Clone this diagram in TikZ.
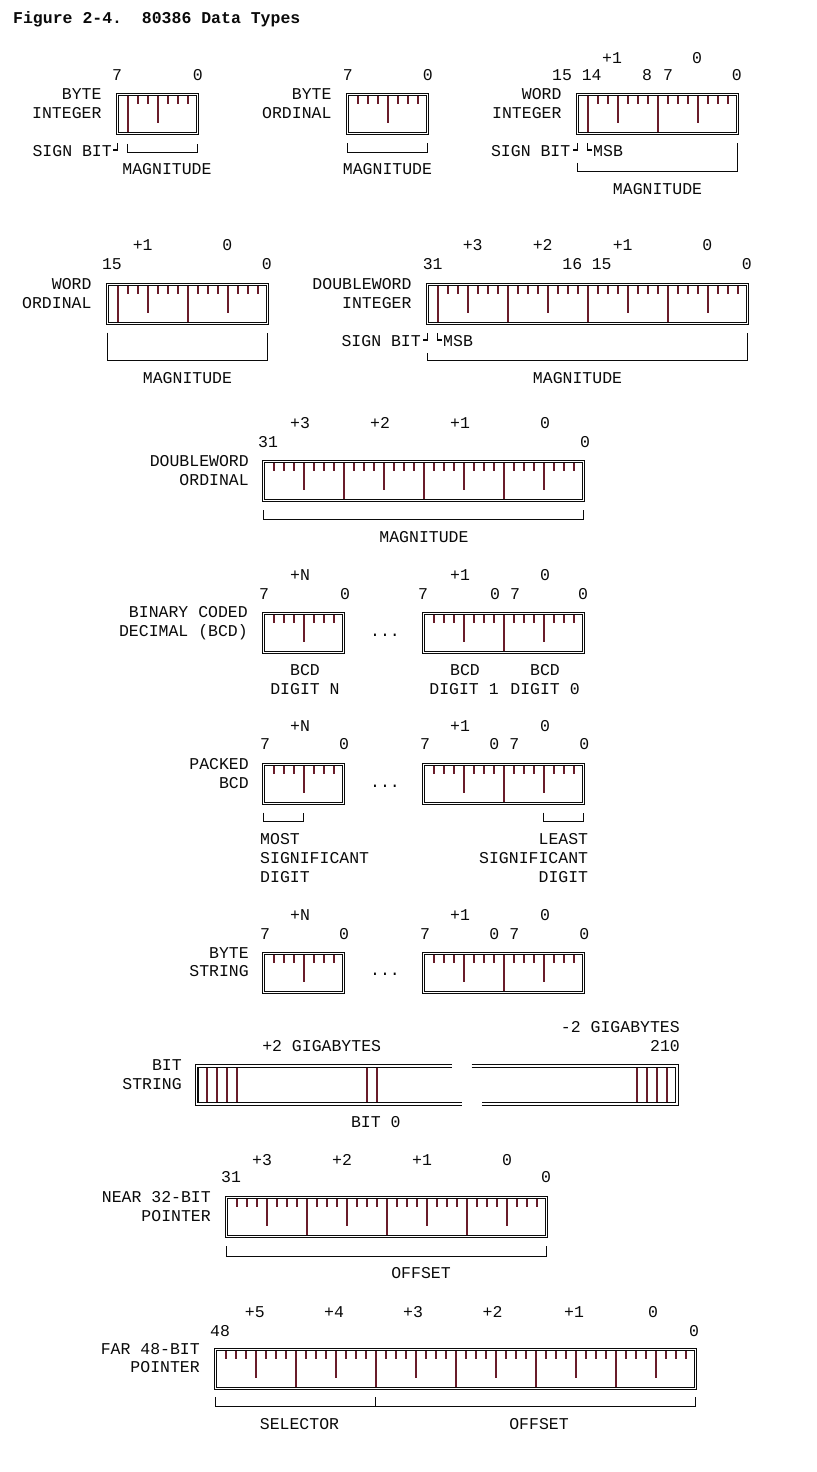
\documentclass[tikz,border=0pt]{standalone}
\usepackage{fontspec}
\setmonofont{Liberation Mono}
\usepackage{tikz}
\usetikzlibrary{calc}
\definecolor{tickred}{RGB}{105,28,42}
\definecolor{ink}{RGB}{10,10,10}
\tikzset{
  lbl/.style={font=\ttfamily\fontsize{16.5bp}{18.8bp}\selectfont, inner sep=0pt, text height=9.5bp, text depth=0pt, text=ink},
  boxline/.style={draw=ink, line width=1.3bp},
  regbox/.style={minimum width=#1, minimum height=39bp, inner sep=0pt, outer sep=0pt, anchor=north west},
  bittick/.style={draw=tickred, line width=2bp},
  brk/.style={draw=ink, line width=1.7bp},
}
% bit field: name, x of bit boundary 0, top, number of bits
\newcommand{\bitfield}[4]{%
  \pgfmathtruncatemacro{\lastk}{#4-1}
  \foreach \k in {1,...,\lastk} {
    \pgfmathtruncatemacro{\jb}{mod(#4-\k,8)}
    \pgfmathtruncatemacro{\jn}{mod(#4-\k,4)}
    \ifnum\jb=0 \def\tlen{38}\else\ifnum\jn=0 \def\tlen{28.5}\else\def\tlen{9.5}\fi\fi
    \draw[bittick] (#2+10*\k,#3+1) -- (#2+10*\k,#3+\tlen);
  }
  \node[regbox=#4*10bp] (#1) at (#2,#3) {};
  \draw[boxline] ($(#1.north west)+(-1.3,-1.3)$) rectangle ($(#1.south east)+(1.3,1.3)$);
  \draw[boxline] ($(#1.north west)+(1.3,1.3)$) rectangle ($(#1.south east)+(-1.3,-1.3)$);
}

\begin{document}
\begin{tikzpicture}[x=1bp,y=-1bp]
\useasboundingbox (0,0) rectangle (816,1472);
\node[lbl, font=\ttfamily\bfseries\fontsize{16.5bp}{18.8bp}\selectfont, anchor=west] (title) at (13,19) {Figure 2-4.\ \ 80386 Data Types};

% byte integer
\draw[bittick] (127.5,95.5) -- ++(0,37);
\bitfield{bint}{117.5}{94.5}{8}
\node[lbl] (bint-hi) at (117,76) {7};
\node[lbl] (bint-lo) at (197.7,76) {0};
\node[lbl, anchor=east] (bint-n1) at (101.7,95) {BYTE};
\node[lbl, anchor=east] (bint-n2) at (101.7,113.5) {INTEGER};
\node[lbl, anchor=east] (bint-sb) at (112,151.5) {SIGN BIT};
\draw[brk] (113,150) -- (117.5,150) -- (117.5,143.5);
\draw[brk] (127.5,144) -- (127.5,152.5) -- (197.5,152.5) -- (197.5,144);
\node[lbl] (bint-mag) at (167,170) {MAGNITUDE};

% byte ordinal
\bitfield{bord}{347.5}{94.5}{8}
\node[lbl] (bord-hi) at (347.7,76) {7};
\node[lbl] (bord-lo) at (427.7,76) {0};
\node[lbl, anchor=east] (bord-n1) at (331.7,95) {BYTE};
\node[lbl, anchor=east] (bord-n2) at (331.7,113.5) {ORDINAL};
\draw[brk] (347.5,143.5) -- (347.5,152.5) -- (427.5,152.5) -- (427.5,143.5);
\node[lbl] (bord-mag) at (387.5,170) {MAGNITUDE};

% word integer
\draw[bittick] (587.5,95.5) -- ++(0,37);
\bitfield{wint}{577.5}{94.5}{16}
\node[lbl] (wint-b1) at (612,59) {+1};
\node[lbl] (wint-b0) at (697,59) {0};
\node[lbl] (wint-15) at (562,76) {15};
\node[lbl] (wint-14) at (591.7,76) {14};
\node[lbl] (wint-8) at (647,76) {8};
\node[lbl] (wint-7) at (668,76) {7};
\node[lbl] (wint-0) at (736.7,76) {0};
\node[lbl, anchor=east] (wint-n1) at (561.7,95) {WORD};
\node[lbl, anchor=east] (wint-n2) at (561.7,113.5) {INTEGER};
\node[lbl, anchor=east] (wint-sb) at (570.5,151.5) {SIGN BIT};
\draw[brk] (573,150) -- (577.5,150) -- (577.5,143.5);
\draw[brk] (587.5,143.5) -- (587.5,150) -- (592,150);
\node[lbl, anchor=west] (wint-msb) at (593,151.5) {MSB};
\draw[brk] (577.5,163) -- (577.5,171.5) -- (737.5,171.5) -- (737.5,143.5);
\node[lbl] (wint-mag) at (657.5,190) {MAGNITUDE};

% word ordinal
\draw[bittick] (117.5,285.5) -- ++(0,37);
\bitfield{word}{107.5}{284.5}{16}
\node[lbl] (word-b1) at (142.7,246) {+1};
\node[lbl] (word-b0) at (227.3,246) {0};
\node[lbl] (word-hi) at (112,265) {15};
\node[lbl] (word-lo) at (266.7,265) {0};
\node[lbl, anchor=east] (word-n1) at (91.7,285) {WORD};
\node[lbl, anchor=east] (word-n2) at (91.7,303.5) {ORDINAL};
\draw[brk] (107.5,332.7) -- (107.5,360.5) -- (267.5,360.5) -- (267.5,332.7);
\node[lbl] (word-mag) at (187.5,379) {MAGNITUDE};

% doubleword integer
\draw[bittick] (437.5,285.5) -- ++(0,37);
\bitfield{dint}{427.5}{284.5}{32}
\node[lbl] (dint-b3) at (472.7,246) {+3};
\node[lbl] (dint-b2) at (542.7,246) {+2};
\node[lbl] (dint-b1) at (622.7,246) {+1};
\node[lbl] (dint-b0) at (707.3,246) {0};
\node[lbl] (dint-31) at (432.7,265) {31};
\node[lbl] (dint-16) at (572.3,265) {16};
\node[lbl] (dint-15) at (601.7,265) {15};
\node[lbl] (dint-0) at (746.7,265) {0};
\node[lbl, anchor=east] (dint-n1) at (411.7,285) {DOUBLEWORD};
\node[lbl, anchor=east] (dint-n2) at (411.7,303.5) {INTEGER};
\node[lbl, anchor=east] (dint-sb) at (421,341.5) {SIGN BIT};
\draw[brk] (423,340) -- (427.5,340) -- (427.5,333);
\draw[brk] (437.5,333) -- (437.5,340) -- (442,340);
\node[lbl, anchor=west] (dint-msb) at (443,341.5) {MSB};
\draw[brk] (427.5,353.3) -- (427.5,360.5) -- (747.5,360.5) -- (747.5,332.7);
\node[lbl] (dint-mag) at (577.5,379) {MAGNITUDE};

% doubleword ordinal
\bitfield{dord}{263.5}{461.5}{32}
\node[lbl] (dord-b3) at (300,424) {+3};
\node[lbl] (dord-b2) at (380,424) {+2};
\node[lbl] (dord-b1) at (460,424) {+1};
\node[lbl] (dord-b0) at (545,424) {0};
\node[lbl] (dord-hi) at (268,443) {31};
\node[lbl] (dord-lo) at (585,443) {0};
\node[lbl, anchor=east] (dord-n1) at (249,462) {DOUBLEWORD};
\node[lbl, anchor=east] (dord-n2) at (249,481) {ORDINAL};
\draw[brk] (263.5,510) -- (263.5,519.5) -- (583.5,519.5) -- (583.5,510);
\node[lbl] (dord-mag) at (424,538) {MAGNITUDE};

% binary coded decimal
\bitfield{bcdn}{263.5}{613.5}{8}
\bitfield{bcd0}{423.5}{613.5}{16}
\node[lbl] (bcd-dots) at (385,632) {...};
\node[lbl] (bcd-bn) at (300,576) {+N};
\node[lbl] (bcd-b1) at (460,576) {+1};
\node[lbl] (bcd-b0) at (545,576) {0};
\node[lbl] (bcd-7a) at (264,595) {7};
\node[lbl] (bcd-0a) at (345,595) {0};
\node[lbl] (bcd-7b) at (423,595) {7};
\node[lbl] (bcd-0b) at (495,595) {0};
\node[lbl] (bcd-7c) at (515,595) {7};
\node[lbl] (bcd-0c) at (583,595) {0};
\node[lbl, anchor=east] (bcd-n1) at (248,613) {BINARY CODED};
\node[lbl, anchor=east] (bcd-n2) at (248,632) {DECIMAL (BCD)};
\node[lbl] (bcd-dn1) at (305,671) {BCD};
\node[lbl] (bcd-dn2) at (305,690) {DIGIT N};
\node[lbl] (bcd-d11) at (465,671) {BCD};
\node[lbl] (bcd-d12) at (464,690) {DIGIT 1};
\node[lbl] (bcd-d01) at (545,671) {BCD};
\node[lbl] (bcd-d02) at (545,690) {DIGIT 0};

% packed bcd
\bitfield{pbcn}{263.5}{764.5}{8}
\bitfield{pbc0}{423.5}{764.5}{16}
\node[lbl] (pbc-dots) at (385,783) {...};
\node[lbl] (pbc-bn) at (300,727) {+N};
\node[lbl] (pbc-b1) at (460,727) {+1};
\node[lbl] (pbc-b0) at (545,727) {0};
\node[lbl] (pbc-7a) at (265,745) {7};
\node[lbl] (pbc-0a) at (344,745) {0};
\node[lbl] (pbc-7b) at (425,745) {7};
\node[lbl] (pbc-0b) at (494.3,745) {0};
\node[lbl] (pbc-7c) at (514.3,745) {7};
\node[lbl] (pbc-0c) at (584.3,745) {0};
\node[lbl, anchor=east] (pbc-n1) at (249,764.3) {PACKED};
\node[lbl, anchor=east] (pbc-n2) at (249,783.3) {BCD};
\draw[brk] (263.5,812.7) -- (263.5,821.5) -- (303.5,821.5) -- (303.5,812.7);
\draw[brk] (543.5,812.7) -- (543.5,821.5) -- (583.5,821.5) -- (583.5,812.7);
\node[lbl, anchor=west] (pbc-m1) at (260,840) {MOST};
\node[lbl, anchor=west] (pbc-m2) at (260,859) {SIGNIFICANT};
\node[lbl, anchor=west] (pbc-m3) at (260,877.7) {DIGIT};
\node[lbl, anchor=east] (pbc-l1) at (588.3,840) {LEAST};
\node[lbl, anchor=east] (pbc-l2) at (588.3,859) {SIGNIFICANT};
\node[lbl, anchor=east] (pbc-l3) at (588.3,877.7) {DIGIT};

% byte string
\bitfield{bstn}{263.5}{953.5}{8}
\bitfield{bst0}{423.5}{953.5}{16}
\node[lbl] (bst-dots) at (385,971) {...};
\node[lbl] (bst-bn) at (300,916) {+N};
\node[lbl] (bst-b1) at (460,916) {+1};
\node[lbl] (bst-b0) at (545,916) {0};
\node[lbl] (bst-7a) at (265,934.5) {7};
\node[lbl] (bst-0a) at (344,934.5) {0};
\node[lbl] (bst-7b) at (425,934.5) {7};
\node[lbl] (bst-0b) at (494.3,934.5) {0};
\node[lbl] (bst-7c) at (514.3,934.5) {7};
\node[lbl] (bst-0c) at (584.3,934.5) {0};
\node[lbl, anchor=east] (bst-n1) at (249,953.3) {BYTE};
\node[lbl, anchor=east] (bst-n2) at (249,971.7) {STRING};

% bit string
\foreach \x in {206.5,216.5,226.5,236.5,366.5,376.5,636.5,646.5,656.5,666.5}
  \draw[bittick] (\x,1067.5) -- (\x,1102.5);
\draw[boxline] (451.5,1064.8) -- (195.3,1064.8) -- (195.3,1105.2) -- (461.5,1105.2);
\draw[boxline] (451.5,1067.5) -- (198,1067.5) -- (198,1102.5) -- (461.5,1102.5);
\draw[boxline] (471.5,1064.8) -- (678.5,1064.8) -- (678.5,1105.2) -- (481.5,1105.2);
\draw[boxline] (471.5,1067.5) -- (675.8,1067.5) -- (675.8,1102.5) -- (481.5,1102.5);
\node[lbl] (bit-plus) at (321.7,1046.7) {+2 GIGABYTES};
\node[lbl, anchor=east] (bit-minus) at (680,1028) {-2 GIGABYTES};
\node[lbl, anchor=east] (bit-210) at (680,1046.7) {210};
\node[lbl, anchor=east] (bit-n1) at (182,1066) {BIT};
\node[lbl, anchor=east] (bit-n2) at (182,1085) {STRING};
\node[lbl] (bit-zero) at (375.8,1123) {BIT 0};

% near 32-bit pointer
\bitfield{near}{226.5}{1197.5}{32}
\node[lbl] (near-b3) at (262,1161) {+3};
\node[lbl] (near-b2) at (342,1161) {+2};
\node[lbl] (near-b1) at (422,1161) {+1};
\node[lbl] (near-b0) at (507,1161) {0};
\node[lbl] (near-hi) at (231,1178) {31};
\node[lbl] (near-lo) at (546,1178) {0};
\node[lbl, anchor=east] (near-n1) at (211,1198) {NEAR 32-BIT};
\node[lbl, anchor=east] (near-n2) at (211,1217) {POINTER};
\draw[brk] (226.5,1246) -- (226.5,1256.5) -- (546.5,1256.5) -- (546.5,1246);
\node[lbl] (near-off) at (421,1274) {OFFSET};

% far 48-bit pointer
\bitfield{far}{215.5}{1349.5}{48}
\node[lbl] (far-b5) at (254.8,1313) {+5};
\node[lbl] (far-b4) at (334,1313) {+4};
\node[lbl] (far-b3) at (413,1313) {+3};
\node[lbl] (far-b2) at (492.6,1313) {+2};
\node[lbl] (far-b1) at (574,1313) {+1};
\node[lbl] (far-b0) at (653,1313) {0};
\node[lbl] (far-hi) at (220,1332) {48};
\node[lbl] (far-lo) at (694,1332) {0};
\node[lbl, anchor=east] (far-n1) at (200,1350) {FAR 48-BIT};
\node[lbl, anchor=east] (far-n2) at (200,1368) {POINTER};
\draw[brk] (215.5,1397) -- (215.5,1406.5) -- (695.5,1406.5) -- (695.5,1397);
\draw[brk] (375.5,1397) -- (375.5,1406.5);
\node[lbl] (far-sel) at (299.5,1425) {SELECTOR};
\node[lbl] (far-off) at (539,1425) {OFFSET};
\end{tikzpicture}
\end{document}
